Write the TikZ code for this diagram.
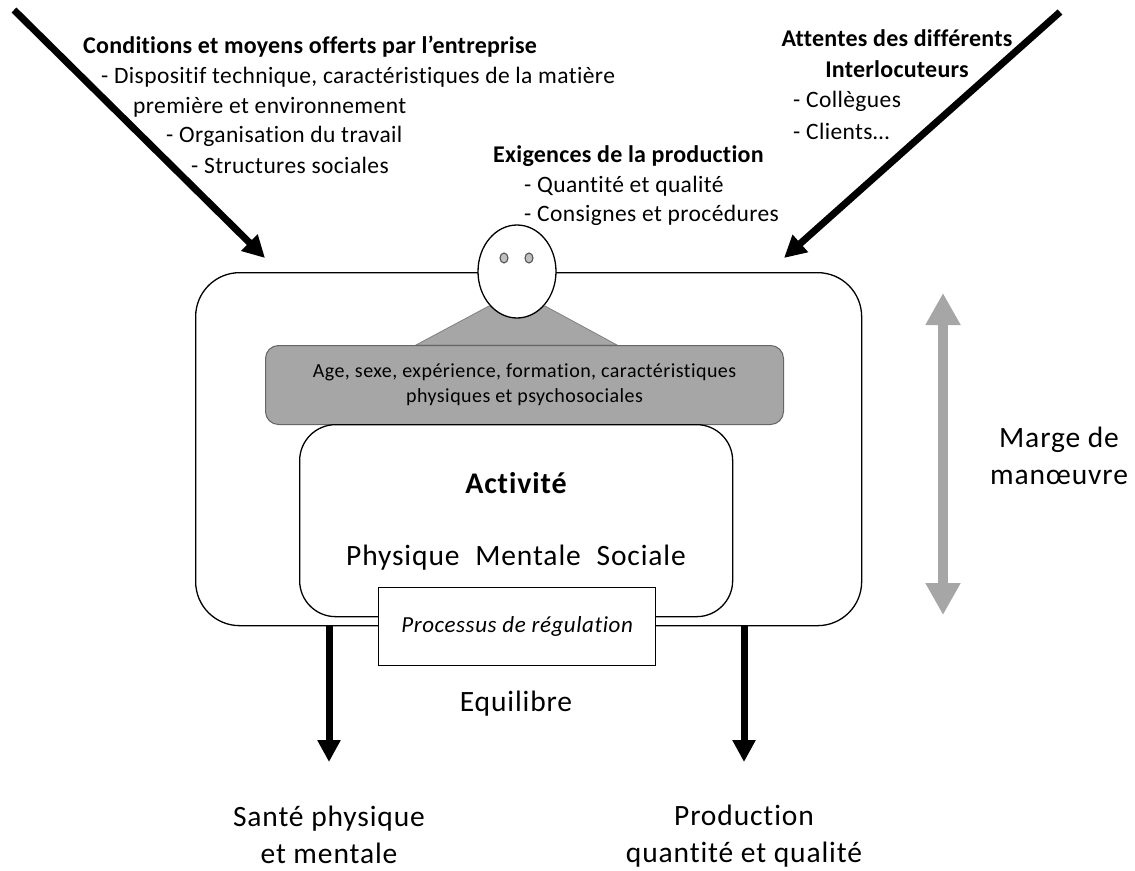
\documentclass[tikz,border=0pt]{standalone}
\usepackage{fontspec}
\setmainfont{Carlito}[Ligatures=CommonOff]
\usepackage{tikz}
\usetikzlibrary{positioning, calc, arrows.meta, shapes.geometric}
\definecolor{arrowgrey}{HTML}{A6A6A6}
\definecolor{bodygrey}{HTML}{A6A6A6}
\definecolor{eyegrey}{HTML}{BFBFBF}
\tikzset{
    bodytext/.style = {inner sep=0pt, anchor=west, font=\fontsize{23.5}{28}\selectfont\addfontfeature{LetterSpace=1.7}},
    headtext/.style = {inner sep=0pt, anchor=west, font=\fontsize{24}{28}\selectfont\bfseries\addfontfeature{LetterSpace=1}},
    bigtext/.style = {inner sep=0pt, align=center, font=\fontsize{29.5}{37}\selectfont\addfontfeature{LetterSpace=3}},
    blackarrow/.style = {line width=7pt, black, -{Triangle[length=22pt,width=22pt]}},
    outbox/.style = {draw=black, line width=1.3pt, fill=white, rounded corners=44pt},
    greyarrow/.style = {line width=10pt, color=arrowgrey, {Triangle[length=32pt,width=33pt]}-{Triangle[length=32pt,width=33pt]}},
    eye/.style = {draw=black!70, line width=1pt, fill=eyegrey, ellipse, minimum width=8pt, minimum height=10pt, inner sep=0pt},
}
\begin{document}
\begin{tikzpicture}[x=1pt,y=-1pt]
        \useasboundingbox (0,0) rectangle (1135,870);
        % outer frame
        \node [outbox, minimum width=666pt, minimum height=353pt, anchor=north west] (frame) at (195,272) {};
        % shoulders and head
        \fill [bodygrey, draw=black!50, line width=0.8pt] (416,345) -- (489,306) -- (545,306) -- (617,345) -- cycle;
        \node [draw=black, line width=1.3pt, fill=white, ellipse, minimum width=78pt, minimum height=93pt, inner sep=0pt] (head) at (517,271.5) {};
        \node [eye] (eyeleft) at (504,258) {};
        \node [eye] (eyeright) at (529,258) {};
        % personal box
        \node [draw=black!60, line width=1pt, fill=bodygrey, rounded corners=13pt, minimum width=518pt, minimum height=79pt, anchor=north west, inner sep=0pt, align=center, font=\fontsize{20}{25}\selectfont\addfontfeature{LetterSpace=2.3}] (person) at (265,345) {Age, sexe, expérience, formation, caractéristiques\\physiques et psychosociales};
        % activity box
        \node [draw=black, line width=1.3pt, fill=white, rounded corners=36pt, minimum width=433pt, minimum height=192pt, anchor=north west] (activity) at (299,424) {};
        \node [inner sep=0pt, font=\fontsize{30}{34}\selectfont\bfseries\addfontfeature{LetterSpace=3}] (activitytitle) at (516,483) {Activité};
        \node [bigtext] (kinds) at (516,558) {Physique\; Mentale\; Sociale};
        % regulation box
        \node [draw=black, line width=1.3pt, fill=white, minimum width=277pt, minimum height=78pt, anchor=north west, inner sep=0pt, font=\fontsize{23}{26}\selectfont\itshape\addfontfeature{LetterSpace=2.5}] (regulation) at (378,587) {Processus de régulation};
        \node [bigtext] (balance) at (516,704) {Equilibre};
        % outcomes
        \node [bigtext] (health) at (329,835) {Santé physique\\et mentale};
        \node [bigtext] (production) at (744,836) {Production\\quantité et qualité};
        \coordinate (healthstart) at (329,625);
        \coordinate (healthend) at (329,762);
        \coordinate (prodstart) at (744,625);
        \coordinate (prodend) at (744,762);
        \draw [blackarrow] (healthstart) -- (healthend);
        \draw [blackarrow] (prodstart) -- (prodend);
        % incoming arrows
        \coordinate (leftstart) at (14,10);
        \coordinate (leftend) at (265,258);
        \coordinate (rightstart) at (1060,12);
        \coordinate (rightend) at (784,258);
        \draw [blackarrow] (leftstart) -- (leftend);
        \draw [blackarrow] (rightstart) -- (rightend);
        % margin
        \coordinate (margintop) at (943,293);
        \coordinate (marginbottom) at (943,615);
        \draw [greyarrow] (margintop) -- (marginbottom);
        \node [bigtext] (margin) at (1059,456) {Marge de\\manœuvre};
        % top left text
        \node [headtext] (condhead) at (83,47) {Conditions et moyens offerts par l’entreprise};
        \node [bodytext] (cond1) at (101,77) {- Dispositif technique, caractéristiques de la matière};
        \node [bodytext] (cond2) at (133,107) {première et environnement};
        \node [bodytext] (cond3) at (166,136) {- Organisation du travail};
        \node [bodytext] (cond4) at (191,165) {- Structures sociales};
        % top middle text
        \node [headtext] (prodhead) at (493,156) {Exigences de la production};
        \node [bodytext] (prod1) at (524,186) {- Quantité et qualité};
        \node [bodytext] (prod2) at (524,215) {- Consignes et procédures};
        % top right text
        \node [headtext, anchor=center] (wait1) at (897,38) {Attentes des différents};
        \node [headtext, anchor=center] (wait2) at (897,69) {Interlocuteurs};
        \node [bodytext] (wait3) at (793,101) {- Collègues};
        \node [bodytext] (wait4) at (793,131) {- Clients…};
\end{tikzpicture}
\end{document}
